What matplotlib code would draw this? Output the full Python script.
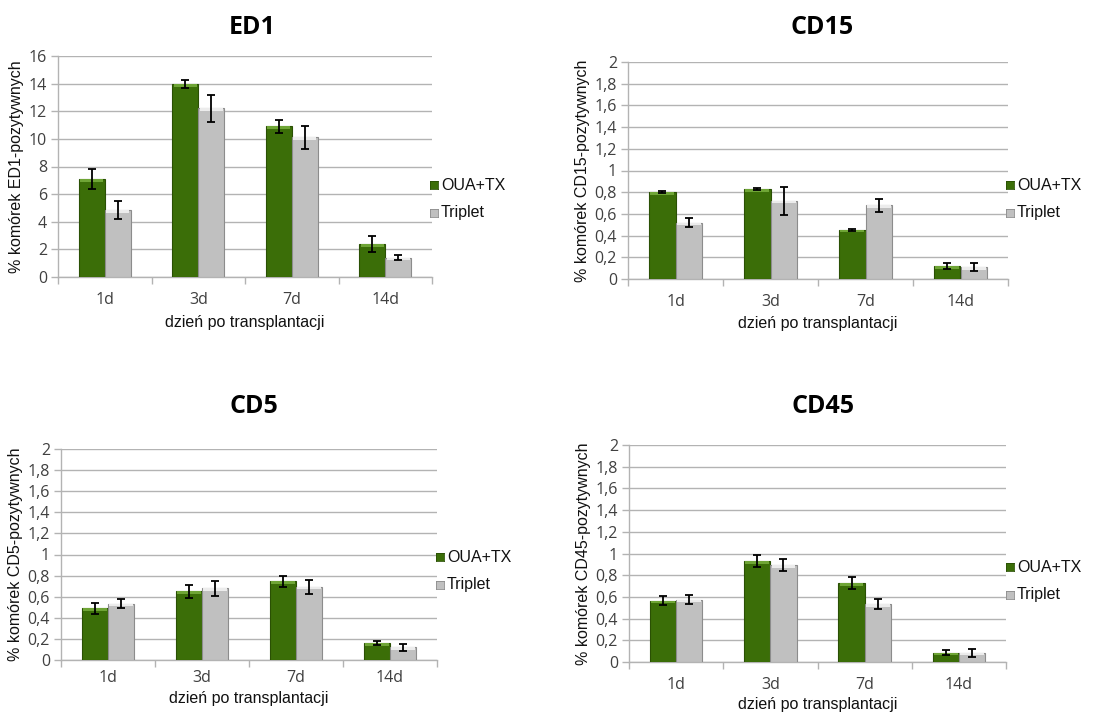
import matplotlib
matplotlib.use("Agg")
import matplotlib.pyplot as plt
import numpy as np

days = ["1d", "3d", "7d", "14d"]
series_names = ["OUA+TX", "Triplet"]

ed1_oua = [7.1, 13.95, 10.9, 2.4]
ed1_oua_err = [0.75, 0.3, 0.45, 0.6]
ed1_tri = [4.85, 12.2, 10.1, 1.4]
ed1_tri_err = [0.65, 0.95, 0.8, 0.18]

cd15_oua = [0.80, 0.83, 0.455, 0.12]
cd15_oua_err = [0.01, 0.01, 0.01, 0.025]
cd15_tri = [0.52, 0.72, 0.68, 0.11]
cd15_tri_err = [0.04, 0.13, 0.06, 0.04]

cd5_oua = [0.49, 0.65, 0.745, 0.16]
cd5_oua_err = [0.05, 0.065, 0.05, 0.02]
cd5_tri = [0.535, 0.68, 0.695, 0.12]
cd5_tri_err = [0.045, 0.07, 0.065, 0.03]

cd45_oua = [0.565, 0.93, 0.725, 0.085]
cd45_oua_err = [0.04, 0.055, 0.055, 0.025]
cd45_tri = [0.575, 0.89, 0.535, 0.085]
cd45_tri_err = [0.04, 0.055, 0.05, 0.035]

W, H = 1105, 713
fig = plt.figure(figsize=(W / 100, H / 100), dpi=100)
fig.patch.set_facecolor("white")

GREEN = "#3b6e08"
GREEN_EDGE = "#2a5004"
GREEN_HI = "#6fa536"
GRAY = "#c0c0c0"
GRAY_EDGE = "#8c8c8c"
GRAY_HI = "#ececec"
GRID = "#b3b3b3"
TXT = "#404040"


def px_axes(left, top, right, bottom):
    return fig.add_axes([left / W, 1 - bottom / H, (right - left) / W, (bottom - top) / H])


def panel(box, title, title_xy, oua, oua_err, tri, tri_err, ymax, ystep, ylabel,
          xlabel_y, legend_y, legend_x, comma=True, xpad=11):
    ax = px_axes(*box)
    x = np.arange(len(days))
    bw = 0.278
    for vals, errs, off, col, edge, hi in [
        (oua, oua_err, -bw / 2, GREEN, GREEN_EDGE, GREEN_HI),
        (tri, tri_err, bw / 2, GRAY, GRAY_EDGE, GRAY_HI),
    ]:
        vals = np.asarray(vals)
        ax.bar(x + off, vals, width=bw, color=col, edgecolor=edge, linewidth=0.8, zorder=3)
        # light bevel band along the top of each bar
        band = ymax * 0.012
        ax.bar(x + off, np.full_like(vals, band), bottom=vals - band, width=bw * 0.9,
               color=hi, linewidth=0, zorder=4)
        ax.errorbar(x + off, vals, yerr=errs, fmt="none", ecolor="black",
                    elinewidth=1.3, capsize=3.2, capthick=1.3, zorder=5)
    ax.set_xlim(-0.5, len(days) - 0.5)
    ax.set_ylim(0, ymax)
    ticks = np.arange(0, ymax + ystep / 2, ystep)
    ax.set_yticks(ticks)
    if comma:
        labels = [("%g" % round(t, 1)).replace(".", ",") for t in ticks]
    else:
        labels = ["%g" % t for t in ticks]
    ax.set_yticklabels(labels, fontsize=11.5, color=TXT, fontfamily="Open Sans")
    ax.set_xticks(x)
    ax.set_xticklabels(days, fontsize=11.5, color=TXT, fontfamily="Open Sans")
    ax.tick_params(axis="x", length=0, pad=xpad)
    ax.set_xticks(np.arange(-0.5, len(days)), minor=True)
    ax.tick_params(axis="x", which="minor", length=5, color=GRID, width=1)
    ax.tick_params(axis="y", length=5, color=GRID, width=1, pad=3)
    ax.grid(axis="y", color=GRID, linewidth=1, zorder=0)
    ax.set_axisbelow(True)
    for s in ["top", "right"]:
        ax.spines[s].set_visible(False)
    ax.spines["left"].set_color(GRID)
    ax.spines["bottom"].set_color(GRID)
    ax.spines["left"].set_linewidth(1)
    ax.spines["bottom"].set_linewidth(1)
    ax.set_ylabel(ylabel, fontsize=11.5, fontfamily="Liberation Sans", color="#111111",
                  labelpad=3)
    left, top, right, bottom = box
    fig.text((left + right) / 2 / W, 1 - xlabel_y / H, "dzień po transplantacji",
             ha="center", va="center", fontsize=11.5, fontfamily="Liberation Sans",
             color="#111111")
    fig.text(title_xy[0] / W, 1 - title_xy[1] / H, title, ha="center", va="center",
             fontsize=18, fontweight="bold", fontfamily="Open Sans", color="black")
    # legend entries
    for i, (name, col, edge) in enumerate([(series_names[0], GREEN, GREEN_EDGE),
                                           (series_names[1], GRAY, GRAY_EDGE)]):
        yy = legend_y + i * 27.5
        sq = fig.add_axes([legend_x / W, 1 - (yy + 4) / H, 8 / W, 8 / H])
        sq.set_facecolor(col)
        for s in sq.spines.values():
            s.set_color(edge)
            s.set_linewidth(0.6)
        sq.set_xticks([])
        sq.set_yticks([])
        fig.text((legend_x + 11) / W, 1 - yy / H, name, ha="left", va="center",
                 fontsize=11.5, fontfamily="Liberation Sans", color="#111111")
    return ax


panel((58, 56, 432, 277), "ED1", (252, 27), ed1_oua, ed1_oua_err, ed1_tri, ed1_tri_err,
      16, 2, "% komórek ED1-pozytywnych", 322, 185, 430, comma=False)
panel((628, 62, 1008, 279), "CD15", (822, 27), cd15_oua, cd15_oua_err, cd15_tri, cd15_tri_err,
      2, 0.2, "% komórek CD15-pozytywnych", 323, 185, 1006)
panel((61, 449, 437, 660), "CD5", (254, 407), cd5_oua, cd5_oua_err, cd5_tri, cd5_tri_err,
      2, 0.2, "% komórek CD5-pozytywnych", 698, 557, 436, xpad=7)
panel((629, 445, 1006, 662), "CD45", (823, 407), cd45_oua, cd45_oua_err, cd45_tri, cd45_tri_err,
      2, 0.2, "% komórek CD45-pozytywnych", 705, 567, 1006)

fig.savefig("out.png", dpi=100, facecolor="white")
